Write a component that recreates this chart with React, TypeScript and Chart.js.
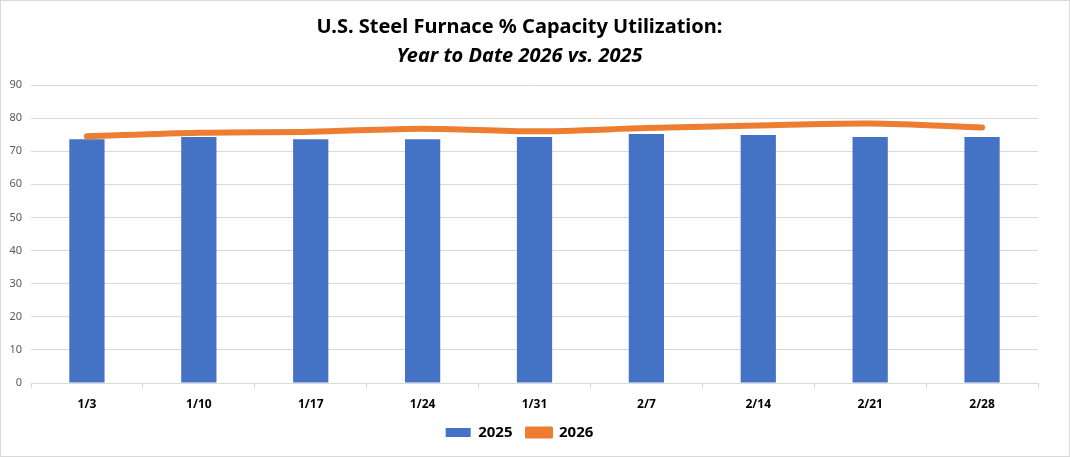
import React, { useEffect, useRef } from "react";
import { Chart, registerables } from "chart.js";

Chart.register(...registerables);

const categories = ["1/3", "1/10", "1/17", "1/24", "1/31", "2/7", "2/14", "2/21", "2/28"];
const values2025 = [73.6, 74.3, 73.6, 73.6, 74.3, 75.2, 74.9, 74.3, 74.3];
const values2026 = [74.5, 75.6, 75.9, 76.8, 76.0, 77.0, 77.8, 78.4, 77.2];
const titleLine1 = "U.S. Steel Furnace % Capacity Utilization:";
const titleLine2 = "Year to Date 2026 vs. 2025";
const yMin = 0;
const yMax = 90;
const yStep = 10;

const FONT = "'Noto Sans', 'Open Sans', sans-serif";

export default function App() {
  const canvasRef = useRef<HTMLCanvasElement | null>(null);

  useEffect(() => {
    document.body.style.margin = "0";
    const canvas = canvasRef.current;
    if (!canvas) return;
    const chart = new Chart(canvas, {
      type: "bar",
      data: {
        labels: categories,
        datasets: [
          {
            type: "bar",
            label: "2025",
            data: values2025,
            backgroundColor: "#4472C4",
            borderWidth: 0,
            barPercentage: 1,
            categoryPercentage: 0.315,
            order: 2,
          },
          {
            type: "line",
            label: "2026",
            data: values2026,
            borderColor: "#ED7D31",
            backgroundColor: "#ED7D31",
            borderWidth: 6,
            borderCapStyle: "round",
            borderJoinStyle: "round",
            pointRadius: 0,
            pointHoverRadius: 0,
            tension: 0.3,
            order: 1,
          },
        ],
      },
      options: {
        responsive: false,
        animation: false,
        devicePixelRatio: 1,
        layout: { padding: { left: 0, right: 31, top: 0, bottom: 6 } },
        plugins: {
          tooltip: { enabled: false },
          title: {
            display: true,
            text: titleLine1,
            color: "#000",
            font: { family: FONT, size: 20, weight: "bold", lineHeight: 1.2 },
            padding: { top: 14, bottom: 5 },
          },
          subtitle: {
            display: true,
            text: titleLine2,
            color: "#000",
            font: { family: FONT, size: 20, weight: "bold", style: "italic", lineHeight: 1.2 },
            padding: { top: 0, bottom: 17 },
          },
          legend: {
            position: "bottom",
            labels: {
              color: "#000",
              font: { family: FONT, size: 15, weight: "bold" },
              boxWidth: 25,
              boxHeight: 9,
              padding: 14,
              generateLabels: (ch: any) =>
                ch.data.datasets.map((ds: any, i: number) => ({
                  text: ds.label,
                  fillStyle: ds.type === "line" ? "#ED7D31" : "#4472C4",
                  strokeStyle: ds.type === "line" ? "#ED7D31" : "#4472C4",
                  lineWidth: ds.type === "line" ? 3 : 0,
                  lineCap: "round",
                  lineJoin: "round",
                  hidden: false,
                  datasetIndex: i,
                  fontColor: "#000",
                })),
            },
          },
        },
        scales: {
          x: {
            offset: true,
            afterFit: (scale: any) => {
              scale.height = 28;
            },
            grid: {
              display: true,
              drawOnChartArea: false,
              drawTicks: true,
              tickLength: 5,
              color: "#d9d9d9",
              offset: true,
            },
            border: { display: true, color: "#d9d9d9" },
            ticks: {
              color: "#000",
              font: { family: FONT, size: 12, weight: "bold" },
              padding: 9,
              maxRotation: 0,
            },
          },
          y: {
            min: yMin,
            max: yMax,
            afterFit: (scale: any) => {
              scale.width = 30;
            },
            grid: { color: "#d9d9d9", drawTicks: false },
            border: { display: false },
            ticks: {
              stepSize: yStep,
              color: "#595959",
              font: { family: FONT, size: 11 },
              padding: 9,
            },
          },
        },
      },
    });
    return () => chart.destroy();
  }, []);

  return (
    <div
      style={{
        width: 1070,
        height: 457,
        boxSizing: "border-box",
        border: "1px solid #d9d9d9",
        background: "#fff",
      }}
    >
      <canvas ref={canvasRef} width={1068} height={455} style={{ display: "block" }} />
    </div>
  );
}
